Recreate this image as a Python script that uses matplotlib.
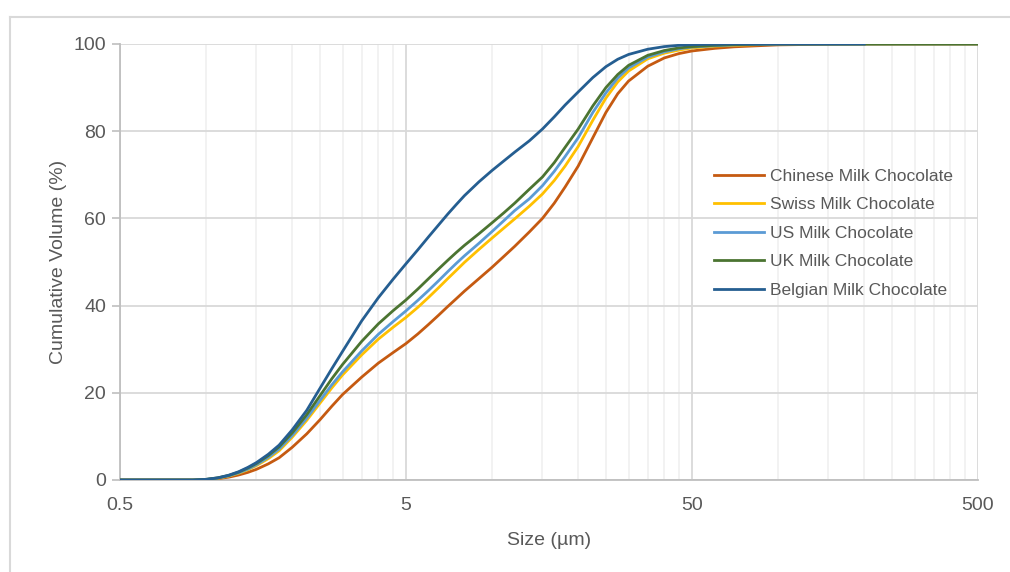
import numpy as np
import matplotlib
matplotlib.use("Agg")
import matplotlib.pyplot as plt
from matplotlib.lines import Line2D
from matplotlib.ticker import FixedLocator, NullFormatter

plt.rcParams['font.family'] = ['Liberation Sans', 'DejaVu Sans']

# particle size (um) and cumulative volume (%)
sizes = [0.5, 0.9, 1.0, 1.1, 1.2, 1.3, 1.4, 1.5, 1.65, 1.8, 2, 2.25, 2.5, 2.75, 3,
         3.5, 4, 4.5, 5, 5.5, 6, 6.5, 7, 7.5, 8, 9, 10, 11, 12, 13.5, 15, 16.5, 18, 20,
         22.5, 25, 27.5, 30, 35, 40, 45, 50, 60, 70, 85, 100, 150, 200, 500]
chinese = [0, 0, 0.08, 0.3, 0.65, 1.15, 1.75, 2.45, 3.7, 5.1, 7.5, 10.6, 13.8, 16.9, 19.6,
           23.6, 26.8, 29.2, 31.3, 33.5, 35.7, 37.8, 39.8, 41.6, 43.3, 46.2, 48.8, 51.3, 53.6,
           56.9, 60, 63.5, 67.2, 72, 78.5, 84.3, 88.6, 91.5, 94.9, 96.8, 97.8, 98.4, 99,
           99.35, 99.6, 99.8, 99.95, 100, 100]
swiss = [0, 0, 0.1, 0.4, 0.9, 1.55, 2.35, 3.3, 4.9, 6.7, 9.8, 13.7, 17.6, 21.1, 24.1,
         28.7, 32.3, 35, 37.3, 39.6, 41.9, 44.1, 46.2, 48.1, 49.9, 52.9, 55.5, 57.8, 59.9,
         62.8, 65.6, 68.7, 72, 76.5, 82.5, 87.6, 91.3, 93.8, 96.6, 97.9, 98.6, 99.1, 99.5,
         99.7, 99.85, 100, 100, 100, 100]
us = [0, 0, 0.12, 0.45, 0.95, 1.65, 2.5, 3.5, 5.2, 7.1, 10.2, 14.2, 18.2, 21.8, 24.8,
      29.6, 33.4, 36.3, 38.8, 41.2, 43.5, 45.7, 47.8, 49.7, 51.4, 54.3, 57, 59.5, 61.8,
      64.5, 67.5, 70.8, 74.2, 78.5, 84.3, 88.8, 92.2, 94.5, 97, 98.2, 98.9, 99.3, 99.6,
      99.8, 99.9, 100, 100, 100, 100]
uk = [0, 0, 0.15, 0.5, 1.05, 1.8, 2.75, 3.8, 5.6, 7.6, 10.8, 15, 19.3, 23.2, 26.5,
      31.8, 35.8, 38.8, 41.3, 43.8, 46.2, 48.4, 50.4, 52.2, 53.8, 56.5, 59, 61.3, 63.5,
      66.7, 69.5, 72.8, 76.3, 80.5, 85.8, 90, 93, 95.1, 97.4, 98.5, 99.1, 99.4, 99.7,
      99.85, 99.95, 100, 100, 100, 100]
belgian = [0, 0, 0.15, 0.5, 1.1, 1.9, 2.9, 4.0, 5.9, 8.0, 11.5, 16, 21, 25.5, 29.5,
           36.5, 41.8, 46, 49.6, 52.8, 55.8, 58.5, 61, 63.2, 65.2, 68.4, 71, 73.2, 75.2,
           77.8, 80.5, 83.3, 86, 89, 92.3, 94.8, 96.5, 97.6, 98.8, 99.4, 99.7, 99.85, 99.95,
           100, 100, 100, 100, 100]

names = ["Chinese Milk Chocolate", "Swiss Milk Chocolate", "US Milk Chocolate",
         "UK Milk Chocolate", "Belgian Milk Chocolate"]
series = [chinese, swiss, us, uk, belgian]
colors = ["#C55A11", "#FFC000", "#5B9BD5", "#4B7431", "#255E91"]

xticks = [0.5, 5, 50, 500]
xticklabels = ["0.5", "5", "50", "500"]
yticks = [0, 20, 40, 60, 80, 100]

txt = "#595959"

fig = plt.figure(figsize=(10.1, 5.72), dpi=100)
ax = fig.add_axes([120/1010, 92/572, 858/1010, 436/572])

for vals, name, c in zip(series, names, colors):
    ax.plot(sizes[:len(vals)], vals, color=c, lw=2, label=name, zorder=3)

ax.set_xscale('log')
ax.set_xlim(0.5, 500)
ax.set_ylim(0, 100)

ax.set_xticks(xticks)
ax.set_xticklabels(xticklabels)
minor = [0.5 * k * 10**n for n in range(3) for k in range(2, 10)]
ax.xaxis.set_minor_locator(FixedLocator(minor))
ax.xaxis.set_minor_formatter(NullFormatter())
ax.set_yticks(yticks)

ax.grid(which='major', axis='both', color='#d9d9d9', lw=1.3, zorder=0)
ax.grid(which='minor', axis='x', color='#f0f0f0', lw=1.2, zorder=0)

ax.tick_params(axis='x', which='both', length=0, pad=12, labelsize=14, labelcolor=txt)
ax.tick_params(axis='y', length=6, width=1.2, color='#bfbfbf', pad=4, labelsize=14, labelcolor=txt)

for s in ['top', 'right']:
    ax.spines[s].set_visible(False)
for s in ['left', 'bottom']:
    ax.spines[s].set_color('#bfbfbf')
    ax.spines[s].set_linewidth(1.3)

ax.set_xlabel("Size (µm)", fontsize=14, color=txt, labelpad=13)
ax.set_ylabel("Cumulative Volume (%)", fontsize=14, color=txt, labelpad=5)

leg = ax.legend(loc='upper left', bbox_to_anchor=(698/1010, 1 - 153/572),
                bbox_transform=fig.transFigure, frameon=False, fontsize=12.5,
                handlelength=2.9, handletextpad=0.35, labelspacing=0.77)
for t in leg.get_texts():
    t.set_color(txt)

# outer light frame
fig.add_artist(Line2D([10/1010, 10/1010], [0, 1 - 17/572], color='#d9d9d9', lw=1.5,
                      transform=fig.transFigure))
fig.add_artist(Line2D([10/1010, 1], [1 - 17/572, 1 - 17/572], color='#d9d9d9', lw=1.5,
                      transform=fig.transFigure))

fig.savefig("out.png", dpi=100)
